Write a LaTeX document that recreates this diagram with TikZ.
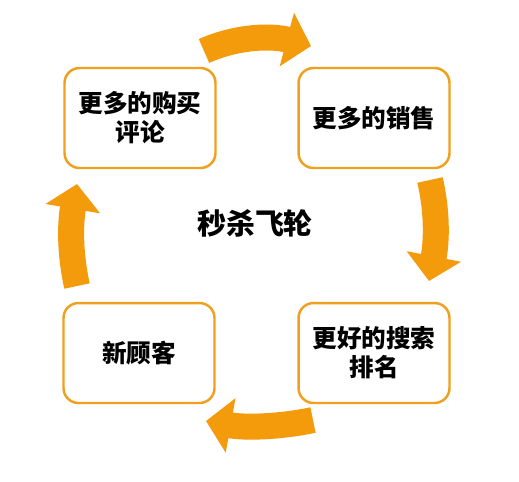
\documentclass[tikz,border=0pt]{standalone}
\usepackage{fontspec}
\newfontfamily\cjk{Noto Sans CJK SC}
\usetikzlibrary{positioning, arrows.meta}
\definecolor{boxorange}{RGB}{240,160,30}
\definecolor{arroworange}{RGB}{243,155,10}
\tikzset{
  stagebox/.style={draw=boxorange, line width=1.4pt, rounded corners=0.3cm, fill=white,
    minimum width=3.02cm, minimum height=2.0cm, align=center,
    font=\cjk\bfseries\fontsize{14}{16.5}\selectfont},
  wheelarrow/.style={draw=arroworange, line width=0.52cm,
    -{Triangle[length=0.5cm, width=1.08cm, fill=arroworange]}}
}
\begin{document}
\begin{tikzpicture}[x=0.02cm, y=-0.02cm]
    \useasboundingbox (0,0) rectangle (519,481);

    % Boxes
    \node[stagebox] (reviews) at (140,118) {更多的购买\\评论};
    \node[stagebox] (sales)   at (374,118) {更多的销售};
    \node[stagebox] (rank)    at (374,353) {更好的搜索\\排名};
    \node[stagebox] (newbuy)  at (139,353) {新顾客};

    % Centre label
    \node[font=\cjk\bfseries\fontsize{16.5}{18}\selectfont] (wheel) at (255,223) {秒杀飞轮};

    % Arrow ends
    \coordinate (a1) at (204,51);  \coordinate (b1) at (311,46);
    \coordinate (a2) at (430,180); \coordinate (b2) at (429,281);
    \coordinate (a3) at (313,420); \coordinate (b3) at (206,421);
    \coordinate (a4) at (77,286);  \coordinate (b4) at (77,184);

    % Flywheel arrows
    \draw[wheelarrow] (a1) .. controls (235,37) and (270,35) .. (b1);
    \draw[wheelarrow] (a2) .. controls (437,210) and (437,240) .. (b2);
    \draw[wheelarrow] (a3) .. controls (280,427) and (245,428) .. (b3);
    \draw[wheelarrow] (a4) .. controls (70,255) and (70,225) .. (b4);
\end{tikzpicture}
\end{document}
